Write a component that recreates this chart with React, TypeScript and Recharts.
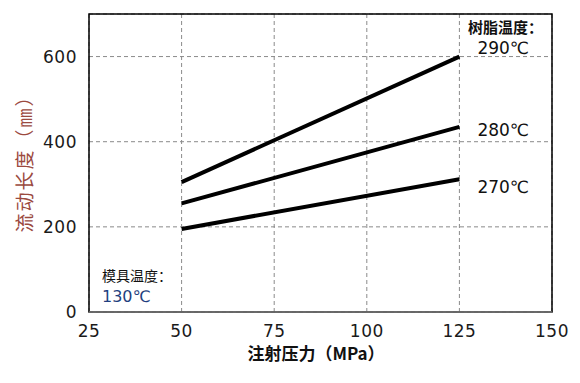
import { LineChart, Line, XAxis, YAxis, CartesianGrid, ReferenceArea, ReferenceLine } from "recharts";

// injection pressure (MPa)
const pressure = [50, 125];
// flow length (mm) per resin temperature
const flow290 = [305, 600];
const flow280 = [255, 435];
const flow270 = [195, 312];
const seriesNames = ["290℃", "280℃", "270℃"];
const labelShift = [-9, 3, 8];

const xTicks = [25, 50, 75, 100, 125, 150];
const yTicks = [0, 200, 400, 600];

const data = pressure.map((p, i) => ({
  p,
  t290: flow290[i],
  t280: flow280[i],
  t270: flow270[i],
}));

const latin = "'DejaVu Sans', sans-serif";
const cjk = "'Noto Sans CJK SC', sans-serif";
const tickStyle = { fill: "#1a1a1a", style: { fontSize: "17px", fontFamily: latin, letterSpacing: "0.5px" } };

function endLabel(name: string, shift: number) {
  return (props: any) => {
    if (props.index !== pressure.length - 1) return null;
    return (
      <text
        x={props.x + 18}
        y={props.y + shift}
        dominantBaseline="central"
        fill="#111"
        style={{ fontSize: "17px", fontFamily: latin }}
      >
        {name}
      </text>
    );
  };
}

export default function App() {
  const keys = ["t290", "t280", "t270"];
  return (
    <div style={{ position: "absolute", left: 0, top: 0, width: 580, height: 383, background: "#fff" }}>
      <LineChart width={580} height={383} data={data} margin={{ top: 14, right: 28, bottom: 0, left: 0 }}>
        <CartesianGrid stroke="#8a8a8a" strokeDasharray="4 3" />
        <XAxis
          dataKey="p"
          type="number"
          domain={[25, 150]}
          ticks={xTicks}
          height={71}
          tickLine={false}
          tickSize={0}
          tickMargin={13}
          axisLine={false}
          tick={tickStyle}
        />
        <YAxis
          type="number"
          domain={[0, 700]}
          ticks={yTicks}
          width={89}
          tickLine={false}
          tickSize={0}
          tickMargin={12}
          axisLine={false}
          tick={tickStyle}
        />
        <ReferenceArea x1={25} x2={150} y1={0} y2={700} fill="none" stroke="#000" strokeWidth={1.5} ifOverflow="visible" />
        <ReferenceLine y={0} stroke="#7a7a7a" strokeWidth={1.5} />
        {keys.map((k, i) => (
          <Line
            key={k}
            dataKey={k}
            stroke="#000"
            strokeWidth={4}
            dot={false}
            isAnimationActive={false}
            label={endLabel(seriesNames[i], labelShift[i])}
          />
        ))}
      </LineChart>
      <div
        style={{
          position: "absolute",
          left: 316 - 100,
          top: 353 - 12,
          width: 200,
          height: 24,
          lineHeight: "24px",
          textAlign: "center",
          fontFamily: cjk,
          fontWeight: "bold",
          fontSize: 17,
          color: "#111",
          whiteSpace: "nowrap",
        }}
      >
        注射压力（MPa）
      </div>
      <div
        style={{
          position: "absolute",
          left: 24 - 90,
          top: 159 - 12,
          width: 180,
          height: 24,
          lineHeight: "24px",
          textAlign: "center",
          transform: "rotate(-90deg)",
          fontFamily: cjk,
          fontSize: 19,
          letterSpacing: 2,
          color: "#9b4a3f",
          whiteSpace: "nowrap",
        }}
      >
        流动长度（㎜）
      </div>
      <div style={{ position: "absolute", left: 468, top: 18, fontFamily: cjk, fontWeight: "bold", fontSize: 15, color: "#111", lineHeight: "18px" }}>
        树脂温度：
      </div>
      <div style={{ position: "absolute", left: 102, top: 266, fontFamily: cjk, fontSize: 14, color: "#111", lineHeight: "18px" }}>
        模具温度：
      </div>
      <div style={{ position: "absolute", left: 102, top: 288, fontFamily: latin, fontSize: 16, color: "#1f3f80", lineHeight: "18px" }}>
        130℃
      </div>
    </div>
  );
}
